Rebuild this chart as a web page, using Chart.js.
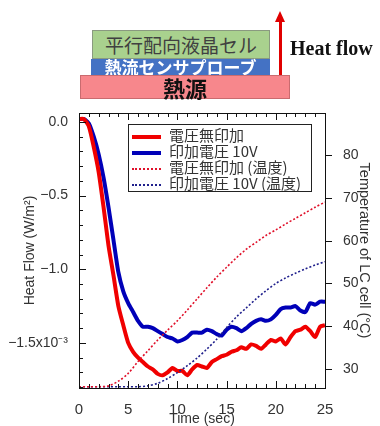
<!DOCTYPE html>
<html>
<head>
<meta charset="utf-8">
<script src="https://cdn.jsdelivr.net/npm/chart.js@4"></script>
<style>
  body { margin: 0; background: #fff; }
  #wrap { position: relative; width: 380px; height: 426px; overflow: hidden; }
  #chart { position: absolute; left: 0; top: 0; }
  .box { position: absolute; box-sizing: border-box; text-align: center; font-family: "Noto Sans CJK JP", sans-serif; white-space: nowrap; }
  #legend { position: absolute; left: 128px; top: 124px; width: 184px; height: 68px; box-sizing: border-box;
            border: 1px solid #222; background: #fff; padding: 2px 0 0 3px; font-family: "Noto Sans CJK JP", sans-serif;
            font-size: 15px; color: #333; }
  #legend div { height: 16px; line-height: 16px; white-space: nowrap; }
  #legend span.s { display: inline-block; width: 29px; margin-right: 8px; vertical-align: middle; }
</style>
</head>
<body>
<div id="wrap">
  <canvas id="chart" width="380" height="426"></canvas>

  <!-- 上の模式図 -->
  <div class="box" style="left:92px;top:30px;width:178px;height:29px;background:#a9d18e;border:1px solid #8a9a80;color:#404040;font-size:19px;line-height:27px;">平行配向液晶セル</div>
  <div class="box" style="left:91px;top:59px;width:179px;height:17px;background:#4472c4;color:#fff;font-size:17px;font-weight:bold;line-height:16px;">熱流センサプローブ</div>
  <div class="box" style="left:80px;top:75px;width:210px;height:24px;background:#f7878c;border:1px solid #c96b6f;color:#111;font-size:22px;font-weight:bold;line-height:22px;">熱源</div>
  <div style="position:absolute;left:279px;top:21px;width:3px;height:54px;background:#e00000;"></div>
  <div style="position:absolute;left:275px;top:11px;width:0;height:0;border-left:5.5px solid transparent;border-right:5.5px solid transparent;border-bottom:11px solid #e00000;"></div>
  <div style="position:absolute;left:290px;top:37px;font-family:'Liberation Serif',serif;font-weight:bold;font-size:20px;color:#111;white-space:nowrap;">Heat flow</div>

  <div id="legend">
    <div><span class="s" style="border-top:4px solid #f00000;"></span>電圧無印加</div>
    <div><span class="s" style="border-top:4px solid #0000b8;"></span>印加電圧 10V</div>
    <div><span class="s" style="border-top:2px dotted #e0102a;"></span>電圧無印加 (温度)</div>
    <div><span class="s" style="border-top:2px dotted #20208c;"></span>印加電圧 10V (温度)</div>
  </div>
</div>

<script>
// time (sec) for heat flow
const time = [0,0.5,1,1.5,2,2.5,3,3.5,4,4.5,5,5.5,6,6.5,7,7.5,8,8.5,9,9.5,10,10.5,11,11.5,12,12.5,
  13,13.5,14,14.5,15,15.5,16,16.5,17,17.5,18,18.5,19,19.5,20,20.5,21,21.5,22,22.5,23,23.5,24,24.5,25];
// heat flow (x10^-3 W/m2)
const heatNoV = [0.02,0.02,-0.03,-0.17,-0.34,-0.58,-0.84,-1.04,-1.25,-1.38,-1.50,-1.56,-1.60,-1.63,-1.66,-1.68,
  -1.71,-1.72,-1.70,-1.67,-1.69,-1.69,-1.72,-1.68,-1.65,-1.66,-1.67,-1.63,-1.61,-1.59,-1.58,-1.56,-1.55,-1.53,
  -1.54,-1.51,-1.52,-1.54,-1.51,-1.48,-1.49,-1.47,-1.51,-1.46,-1.42,-1.41,-1.39,-1.42,-1.46,-1.39,-1.38];
const heatV10 = [0.02,0.02,-0.01,-0.10,-0.22,-0.38,-0.58,-0.80,-1.02,-1.15,-1.23,-1.29,-1.35,-1.39,-1.39,-1.40,
  -1.42,-1.44,-1.46,-1.47,-1.49,-1.48,-1.46,-1.43,-1.43,-1.43,-1.41,-1.42,-1.44,-1.45,-1.41,-1.39,-1.40,-1.42,
  -1.40,-1.37,-1.35,-1.34,-1.35,-1.34,-1.31,-1.27,-1.26,-1.26,-1.25,-1.28,-1.29,-1.23,-1.24,-1.22,-1.22];

// temperature of LC cell (°C)
const timeT = [0,1,2,3,4,5,6,7,8,9,10,11,12,13,14,15,16,17,18,19,20,21,22,23,24,25];
const tempNoV = [25.9,25.9,25.9,26.1,27.2,29.0,31.8,34.3,36.8,39.1,41.3,43.8,46.4,49.0,51.5,53.8,56.0,58.0,
  59.6,61.2,62.5,63.9,65.2,66.5,67.8,69.0];
const tempV10 = [25.9,25.9,25.9,25.9,25.9,25.9,25.9,26.1,26.7,27.8,29.2,30.8,32.6,34.7,37.0,39.7,42.2,44.3,
  46.4,48.3,50.0,51.3,52.4,53.4,54.3,55.1];

const leftTicks = [0, -0.5, -1.0, -1.5];
const leftTickLabels = ['0.0', '\u22120.5', '\u22121.0', '\u22121.5x10\u207B\u00B3'];
const rightTicks = [30, 40, 50, 60, 70, 80];
const xTicks = [0, 5, 10, 15, 20, 25];

const pts = (xs, ys) => xs.map((x, i) => ({ x: x, y: ys[i] }));

// frame and inward ticks
const framePlugin = {
  id: 'frame',
  afterDraw(chart) {
    const { ctx, chartArea: a, scales } = chart;
    ctx.save();
    ctx.strokeStyle = '#111';
    ctx.lineWidth = 1;
    ctx.strokeRect(a.left + 0.5, a.top + 0.5, a.right - a.left, a.bottom - a.top);
    ctx.beginPath();
    for (let t = 0; t <= 25; t++) {
      const px = Math.round(scales.x.getPixelForValue(t)) + 0.5;
      const len = t % 5 === 0 ? 7 : 4;
      ctx.moveTo(px, a.bottom); ctx.lineTo(px, a.bottom - len);
      ctx.moveTo(px, a.top); ctx.lineTo(px, a.top + len);
    }
    for (let k = 0; k >= -18; k--) {
      const v = k / 10;
      const py = Math.round(scales.y.getPixelForValue(v)) + 0.5;
      const len = k % 5 === 0 ? 7 : 4;
      ctx.moveTo(a.left, py); ctx.lineTo(a.left + len, py);
    }
    rightTicks.forEach(v => {
      const py = Math.round(scales.y2.getPixelForValue(v)) + 0.5;
      ctx.moveTo(a.right, py); ctx.lineTo(a.right + 7, py);
    });
    ctx.stroke();
    ctx.restore();
  }
};

new Chart(document.getElementById('chart'), {
  type: 'line',
  data: {
    datasets: [
      { label: '電圧無印加 (温度)', data: pts(timeT, tempNoV), yAxisID: 'y2', borderColor: '#e0102a',
        borderWidth: 1.6, borderDash: [2, 2], pointRadius: 0, tension: 0.3, fill: false },
      { label: '印加電圧 10V (温度)', data: pts(timeT, tempV10), yAxisID: 'y2', borderColor: '#20208c',
        borderWidth: 1.6, borderDash: [2, 2], pointRadius: 0, tension: 0.3, fill: false },
      { label: '電圧無印加', data: pts(time, heatNoV), yAxisID: 'y', borderColor: '#f00000',
        borderWidth: 4, pointRadius: 0, tension: 0.2, fill: false },
      { label: '印加電圧 10V', data: pts(time, heatV10), yAxisID: 'y', borderColor: '#0000b8',
        borderWidth: 4, pointRadius: 0, tension: 0.2, fill: false }
    ]
  },
  options: {
    responsive: false,
    animation: false,
    layout: { padding: { top: 113, left: 0, right: 0, bottom: 0 } },
    plugins: { legend: { display: false }, tooltip: { enabled: false } },
    scales: {
      x: {
        type: 'linear', min: 0, max: 25,
        grid: { display: false }, border: { display: false },
        afterBuildTicks: s => { s.ticks = xTicks.map(v => ({ value: v })); },
        afterFit: s => { s.height = 38; },
        ticks: { padding: 5, color: '#333', font: { family: 'Liberation Sans', size: 15 }, maxRotation: 0 },
        title: { display: true, text: 'Time (sec)', color: '#333', padding: { top: 0, bottom: 0 },
                 font: { family: 'Liberation Sans', size: 14, lineHeight: 1 } }
      },
      y: {
        position: 'left', min: -1.806, max: 0.061,
        grid: { display: false }, border: { display: false },
        afterBuildTicks: s => { s.ticks = leftTicks.map(v => ({ value: v })); },
        afterFit: s => { s.width = 79; },
        ticks: { padding: 3, color: '#333', font: { family: 'Liberation Sans', size: 14 },
                 callback: (v) => leftTickLabels[leftTicks.indexOf(v)] },
        title: { display: true, text: 'Heat Flow (W/m\u00B2)', color: '#333', padding: { top: 22, bottom: 0 },
                 font: { family: 'Liberation Sans', size: 14 } }
      },
      y2: {
        position: 'right', min: 25.6, max: 89.8,
        grid: { display: false }, border: { display: false },
        afterBuildTicks: s => { s.ticks = rightTicks.map(v => ({ value: v })); },
        afterFit: s => { s.width = 55; },
        ticks: { padding: 10, color: '#333', font: { family: 'Liberation Sans', size: 14 } },
        title: { display: true, text: 'Temperature of LC cell (\u00B0C)', color: '#333', padding: { top: 7, bottom: 0 },
                 font: { family: 'Liberation Sans', size: 14.5 } }
      }
    }
  },
  plugins: [framePlugin]
});
</script>
</body>
</html>
